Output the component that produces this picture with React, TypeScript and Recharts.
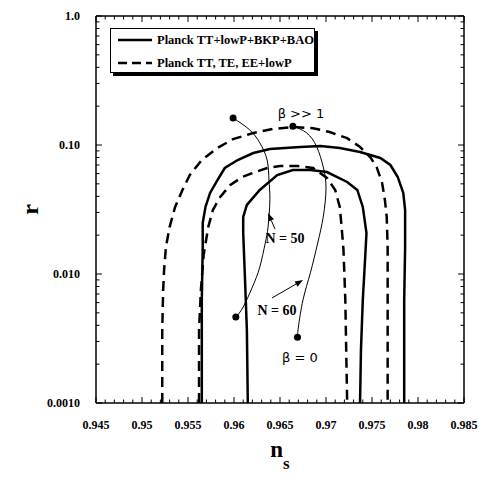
import React from 'react';
import { ComposedChart, Line, Scatter, XAxis, YAxis, ReferenceLine, ReferenceDot } from 'recharts';

// ---- axes ----
const X_MAJOR_TICKS = [0.945, 0.95, 0.955, 0.96, 0.965, 0.97, 0.975, 0.98, 0.985];
const X_TICK_LABELS = ['0.945', '0.95', '0.955', '0.96', '0.965', '0.97', '0.975', '0.98', '0.985'];
const Y_MAJOR_TICKS = [0.001, 0.01, 0.1, 1];
const Y_TICK_LABELS = ['0.0010', '0.010', '0.10', '1.0'];
const X_MINOR_STEPS = [1, 2, 3, 4];
const Y_MINOR_MULTS = [2, 3, 4, 5, 6, 7, 8, 9];

// ---- contours: Planck TT, TE, EE+lowP (dashed) ----
const DASH_OUTER_NS = [0.9522, 0.9522, 0.9523, 0.9524, 0.9526, 0.953, 0.9536, 0.9544, 0.9552, 0.9565, 0.9582, 0.9599, 0.9621, 0.9642, 0.9664, 0.9686, 0.9704, 0.9723, 0.9737, 0.9748, 0.9755, 0.9761, 0.9764, 0.9766, 0.9767, 0.9767, 0.9767];
const DASH_OUTER_R = [0.001, 0.00368, 0.00751, 0.0107, 0.0162, 0.0231, 0.0331, 0.0448, 0.0585, 0.0765, 0.0948, 0.111, 0.124, 0.133, 0.138, 0.135, 0.126, 0.113, 0.0965, 0.0807, 0.0676, 0.0508, 0.0375, 0.0277, 0.0162, 0.0063, 0.001];
const DASH_INNER_NS = [0.9562, 0.9562, 0.9564, 0.9567, 0.9572, 0.9577, 0.9585, 0.9596, 0.9609, 0.9623, 0.9636, 0.965, 0.9669, 0.9686, 0.9701, 0.971, 0.9715, 0.9717, 0.9719, 0.9721, 0.9723];
const DASH_INNER_R = [0.001, 0.00368, 0.00751, 0.014, 0.0231, 0.0313, 0.0395, 0.049, 0.0565, 0.0617, 0.0663, 0.0688, 0.0688, 0.0663, 0.0555, 0.0448, 0.0331, 0.0231, 0.0154, 0.0063, 0.001];

// ---- contours: Planck TT+lowP+BKP+BAO (solid) ----
const SOLID_OUTER_NS = [0.9565, 0.9565, 0.9566, 0.9566, 0.9569, 0.9574, 0.9582, 0.959, 0.9604, 0.9621, 0.9639, 0.9672, 0.9694, 0.9715, 0.9737, 0.9759, 0.977, 0.9778, 0.9784, 0.9786, 0.9786, 0.9785, 0.9785];
const SOLID_OUTER_R = [0.001, 0.0063, 0.0162, 0.0249, 0.0331, 0.0425, 0.0535, 0.0663, 0.0765, 0.0867, 0.0931, 0.0965, 0.0981, 0.0948, 0.0882, 0.0793, 0.07, 0.0565, 0.0425, 0.0313, 0.0162, 0.0063, 0.001];
const SOLID_INNER_NS = [0.9615, 0.9614, 0.9612, 0.961, 0.961, 0.9614, 0.9628, 0.9647, 0.9664, 0.9683, 0.9701, 0.9723, 0.9734, 0.974, 0.9744, 0.9742, 0.974, 0.9738, 0.9737];
const SOLID_INNER_R = [0.001, 0.00368, 0.00898, 0.0208, 0.0277, 0.0343, 0.0448, 0.0585, 0.064, 0.064, 0.0617, 0.0517, 0.0448, 0.0331, 0.0208, 0.0113, 0.0063, 0.00258, 0.001];

// ---- model predictions ----
const N50_NS = [0.9599, 0.9617, 0.9628, 0.9636, 0.9638, 0.9639, 0.9637, 0.9634, 0.9628, 0.962, 0.961, 0.9602];
const N50_R = [0.162, 0.131, 0.104, 0.0765, 0.0535, 0.0375, 0.0231, 0.0174, 0.0113, 0.00793, 0.00555, 0.00464];
const N60_NS = [0.9664, 0.9679, 0.969, 0.9697, 0.97, 0.9697, 0.9691, 0.9683, 0.9675, 0.967, 0.9669];
const N60_R = [0.14, 0.124, 0.0965, 0.0676, 0.0464, 0.0277, 0.0174, 0.0102, 0.0063, 0.00388, 0.00324];

// ---- annotations ----
const TEXT_LABELS = ['β >> 1', 'β = 0', 'N = 50', 'N = 60'];
const TEXT_NS = [0.96728, 0.96717, 0.96554, 0.96468];
const TEXT_R = [0.177, 0.00227, 0.0187, 0.00517];
const TEXT_KIND = ['greek', 'greek', 'bold', 'bold'];
const ARROW_FROM_NS = [0.96446, 0.96413];
const ARROW_FROM_R = [0.0223, 0.00652];
const ARROW_TO_NS = [0.9637, 0.9675];
const ARROW_TO_R = [0.0297, 0.00898];

const LEGEND_LABELS = ['Planck TT+lowP+BKP+BAO', 'Planck TT, TE, EE+lowP'];

const zip = (ns: number[], r: number[]) => ns.map((x, i) => ({ ns: x, r: r[i] }));

const DASH_OUTER = zip(DASH_OUTER_NS, DASH_OUTER_R);
const DASH_INNER = zip(DASH_INNER_NS, DASH_INNER_R);
const SOLID_OUTER = zip(SOLID_OUTER_NS, SOLID_OUTER_R);
const SOLID_INNER = zip(SOLID_INNER_NS, SOLID_INNER_R);
const N50 = zip(N50_NS, N50_R);
const N60 = zip(N60_NS, N60_R);
const END_DOTS = [N50[0], N50[N50.length - 1], N60[0], N60[N60.length - 1]];

const X_MINOR_TICKS = X_MAJOR_TICKS.slice(0, -1).flatMap((m) => X_MINOR_STEPS.map((k) => +(m + k * 0.001).toFixed(4)));
const Y_MINOR_TICKS = Y_MAJOR_TICKS.slice(0, -1).flatMap((d) => Y_MINOR_MULTS.map((k) => +(d * k).toPrecision(3)));
const X_TICKS = [...X_MAJOR_TICKS, ...X_MINOR_TICKS].sort((a, b) => a - b);
const Y_TICKS = [...Y_MAJOR_TICKS, ...Y_MINOR_TICKS].sort((a, b) => a - b);

const SERIF = '"Liberation Serif", "Times New Roman", serif';
const SANS = '"DejaVu Sans", sans-serif';

const majorIndex = (arr: number[], v: number) => arr.findIndex((m) => Math.abs(m - v) < 1e-9);

const makeXTick = (side: 'bottom' | 'top') => (props: any) => {
  const { x, y, payload } = props;
  const idx = majorIndex(X_MAJOR_TICKS, payload.value);
  const len = idx >= 0 ? 6 : 3.5;
  const dir = side === 'bottom' ? -1 : 1;
  return (
    <g>
      <line x1={x} x2={x} y1={y} y2={y + dir * len} stroke="#000" strokeWidth={1} />
      {side === 'bottom' && idx >= 0 && (
        <text x={x} y={y + 26} textAnchor="middle" fontFamily={SERIF} fontWeight="bold" fontSize={12} fill="#000">
          {X_TICK_LABELS[idx]}
        </text>
      )}
    </g>
  );
};

const makeYTick = (side: 'left' | 'right') => (props: any) => {
  const { x, y, payload } = props;
  const idx = majorIndex(Y_MAJOR_TICKS, payload.value);
  const len = idx >= 0 ? 6 : 3.5;
  const dir = side === 'left' ? 1 : -1;
  return (
    <g>
      <line x1={x} x2={x + dir * len} y1={y} y2={y} stroke="#000" strokeWidth={1} />
      {side === 'left' && idx >= 0 && (
        <text x={x - 16} y={y + 4} textAnchor="end" fontFamily={SERIF} fontWeight="bold" fontSize={12} fill="#000">
          {Y_TICK_LABELS[idx]}
        </text>
      )}
    </g>
  );
};

const YTitle = (props: any) => {
  const vb = props.viewBox || { y: 16, height: 387 };
  const cy = vb.y + vb.height / 2;
  return (
    <text x={38} y={cy} transform={`rotate(-90, 38, ${cy})`} textAnchor="middle" fontFamily={SERIF} fontWeight="bold" fontSize={24} fill="#000">
      r
    </text>
  );
};

const XTitle = (props: any) => {
  const vb = props.viewBox || { x: 96, width: 368 };
  const cx = vb.x + vb.width / 2;
  return (
    <text x={cx} y={457} textAnchor="middle" fontFamily={SERIF} fontWeight="bold" fill="#000">
      <tspan fontSize={23}>n</tspan>
      <tspan fontSize={17} dy={12}>s</tspan>
    </text>
  );
};

const Arrow = (props: any) => {
  const { x1, y1, x2, y2 } = props;
  const dx = x2 - x1;
  const dy = y2 - y1;
  const L = Math.sqrt(dx * dx + dy * dy) || 1;
  const ux = dx / L;
  const uy = dy / L;
  const hl = 8;
  const hw = 3;
  const bx = x2 - ux * hl;
  const by = y2 - uy * hl;
  const pts = `${x2},${y2} ${bx - uy * hw},${by + ux * hw} ${bx + uy * hw},${by - ux * hw}`;
  return (
    <g>
      <line x1={x1} y1={y1} x2={bx} y2={by} stroke="#000" strokeWidth={1} />
      <polygon points={pts} fill="#000" />
    </g>
  );
};

const makeTextShape = (i: number) => (props: any) => {
  const { cx, cy } = props;
  const greek = TEXT_KIND[i] === 'greek';
  return (
    <text
      x={cx}
      y={cy}
      textAnchor="middle"
      dominantBaseline="central"
      fontFamily={greek ? SANS : SERIF}
      fontWeight={greek ? 'normal' : 'bold'}
      fontSize={greek ? 13 : 14}
      fill="#000"
    >
      {TEXT_LABELS[i]}
    </text>
  );
};

const DotShape = (props: any) => <circle cx={props.cx} cy={props.cy} r={3.5} fill="#000" />;

const axisLine = { stroke: '#000', strokeWidth: 1.5 };

const LegendBox = () => (
  <div
    style={{
      position: 'absolute',
      left: 110,
      top: 28,
      width: 203,
      height: 43,
      border: '1.5px solid #000',
      boxShadow: '3px 3px 0 #000',
      background: '#fff',
      fontFamily: SERIF,
      fontWeight: 'bold',
      fontSize: 12.5,
      color: '#000',
    }}
  >
    {LEGEND_LABELS.map((lab, i) => (
      <div key={lab} style={{ position: 'absolute', left: 0, top: i === 0 ? 3 : 26, height: 16, width: 203, whiteSpace: 'nowrap' }}>
        <svg width={42} height={16} style={{ position: 'absolute', left: 5, top: 0 }}>
          <line x1={2} x2={36} y1={8} y2={8} stroke="#000" strokeWidth={2.5} strokeDasharray={i === 0 ? undefined : '9 5'} />
        </svg>
        <span style={{ position: 'absolute', left: 46, top: 0, lineHeight: '16px' }}>{lab}</span>
      </div>
    ))}
  </div>
);

export default function App() {
  return (
    <div style={{ position: 'absolute', left: 0, top: 0, width: 498, height: 484, background: '#fff' }}>
      <ComposedChart width={498} height={484} margin={{ top: 11, right: 24, bottom: 51, left: 36 }}>
        <XAxis
          xAxisId="b"
          dataKey="ns"
          type="number"
          orientation="bottom"
          domain={[0.945, 0.985]}
          ticks={X_TICKS}
          interval={0}
          height={30}
          tickSize={0}
          tickMargin={0}
          tickLine={false}
          axisLine={axisLine}
          tick={makeXTick('bottom')}
          allowDataOverflow
          label={{ content: <XTitle /> }}
        />
        <XAxis
          xAxisId="t"
          dataKey="ns"
          type="number"
          orientation="top"
          domain={[0.945, 0.985]}
          ticks={X_TICKS}
          interval={0}
          height={5}
          tickSize={0}
          tickMargin={0}
          tickLine={false}
          axisLine={axisLine}
          tick={makeXTick('top')}
          allowDataOverflow
        />
        <YAxis
          yAxisId="l"
          dataKey="r"
          type="number"
          scale="log"
          domain={[0.001, 1]}
          ticks={Y_TICKS}
          interval={0}
          width={60}
          tickSize={0}
          tickMargin={0}
          tickLine={false}
          axisLine={axisLine}
          tick={makeYTick('left')}
          allowDataOverflow
          label={{ content: <YTitle /> }}
        />
        <YAxis
          yAxisId="r"
          orientation="right"
          dataKey="r"
          type="number"
          scale="log"
          domain={[0.001, 1]}
          ticks={Y_TICKS}
          interval={0}
          width={10}
          tickSize={0}
          tickMargin={0}
          tickLine={false}
          axisLine={axisLine}
          tick={makeYTick('right')}
          allowDataOverflow
        />

        <Line xAxisId="b" yAxisId="l" data={DASH_OUTER} dataKey="r" type="linear" stroke="#000" strokeWidth={2.5} strokeDasharray="10 6" dot={false} isAnimationActive={false} />
        <Line xAxisId="b" yAxisId="l" data={DASH_INNER} dataKey="r" type="linear" stroke="#000" strokeWidth={2.5} strokeDasharray="10 6" dot={false} isAnimationActive={false} />
        <Line xAxisId="b" yAxisId="l" data={SOLID_OUTER} dataKey="r" type="linear" stroke="#000" strokeWidth={2.5} dot={false} isAnimationActive={false} />
        <Line xAxisId="b" yAxisId="l" data={SOLID_INNER} dataKey="r" type="linear" stroke="#000" strokeWidth={2.5} dot={false} isAnimationActive={false} />
        <Line xAxisId="b" yAxisId="l" data={N50} dataKey="r" type="natural" stroke="#000" strokeWidth={1} dot={false} isAnimationActive={false} />
        <Line xAxisId="b" yAxisId="l" data={N60} dataKey="r" type="natural" stroke="#000" strokeWidth={1} dot={false} isAnimationActive={false} />
        <Scatter xAxisId="b" yAxisId="l" data={END_DOTS} dataKey="r" shape={DotShape} isAnimationActive={false} />

        {ARROW_FROM_NS.map((_, i) => (
          <ReferenceLine
            key={`arrow-${i}`}
            xAxisId="b"
            yAxisId="l"
            segment={[
              { x: ARROW_FROM_NS[i], y: ARROW_FROM_R[i] },
              { x: ARROW_TO_NS[i], y: ARROW_TO_R[i] },
            ]}
            shape={Arrow}
          />
        ))}
        {TEXT_LABELS.map((t, i) => (
          <ReferenceDot key={t} xAxisId="b" yAxisId="l" x={TEXT_NS[i]} y={TEXT_R[i]} r={1} shape={makeTextShape(i)} />
        ))}
      </ComposedChart>
      <LegendBox />
    </div>
  );
}
